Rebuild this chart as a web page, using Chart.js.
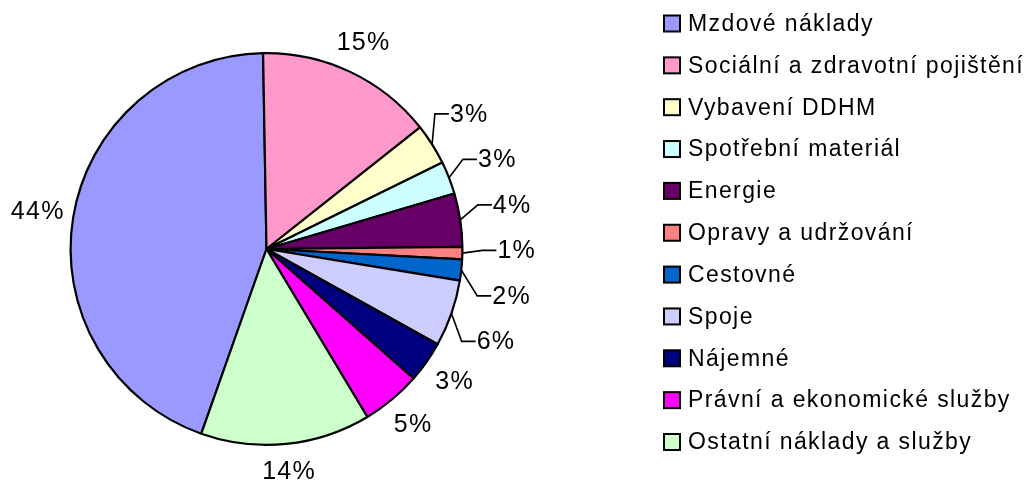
<!DOCTYPE html>
<html>
<head>
<meta charset="utf-8">
<script src="https://cdn.jsdelivr.net/npm/chart.js@4"></script>
<style>
  html, body { margin: 0; padding: 0; background: #fff; }
  canvas { display: block; }
</style>
</head>
<body>
<canvas id="costChart" width="1034" height="485"></canvas>
<script>
const categories = [
  'Mzdové náklady',
  'Sociální a zdravotní pojištění',
  'Vybavení DDHM',
  'Spotřební materiál',
  'Energie',
  'Opravy a udržování',
  'Cestovné',
  'Spoje',
  'Nájemné',
  'Právní a ekonomické služby',
  'Ostatní náklady a služby'
];
// share of costs in percent
const values = [44.3, 14.6, 3.4, 2.7, 4.4, 1.0, 1.75, 5.5, 3.4, 4.9, 14.0];
const colors = [
  '#9999FF', '#FF99CC', '#FFFFCC', '#CCFFFF', '#660066', '#FF8080',
  '#0066CC', '#CCCCFF', '#000080', '#FF00FF', '#CCFFCC'
];

const FAMILY = '"Liberation Sans", Arial, sans-serif';
const total = values.reduce((a, b) => a + b, 0);

// percent labels, small slices on the right get leader lines
const sliceLabels = {
  id: 'sliceLabels',
  afterDatasetsDraw(chart) {
    const ctx = chart.ctx;
    const meta = chart.getDatasetMeta(0);
    ctx.save();
    ctx.font = '25px ' + FAMILY;
    ctx.letterSpacing = '1.3px';
    ctx.fillStyle = '#000';
    ctx.strokeStyle = '#000';
    ctx.lineWidth = 1.6;

    const leaders = [];
    meta.data.forEach((arc, i) => {
      const p = arc.getProps(['x', 'y', 'outerRadius', 'startAngle', 'endAngle'], true);
      const mid = (p.startAngle + p.endAngle) / 2;
      const txt = Math.round(values[i] / total * 100) + '%';
      if (values[i] < 7 && Math.cos(mid) > 0 && Math.sin(mid) < 0.45) {
        leaders.push({ p, mid, txt, y: p.y + (p.outerRadius + 22) * Math.sin(mid) });
      } else {
        // text is wider than tall, so push it further out sideways
        const d = p.outerRadius + 28 + 8 * Math.abs(Math.cos(mid));
        ctx.textAlign = 'center';
        ctx.textBaseline = 'middle';
        ctx.fillText(txt, p.x + d * Math.cos(mid), p.y + d * Math.sin(mid));
      }
    });

    // spread crowded labels evenly around their mean position
    const gap = 45.5;
    leaders.sort((a, b) => a.y - b.y);
    const mean = leaders.reduce((s, l) => s + l.y, 0) / leaders.length;
    leaders.forEach((l, k) => { l.y = mean + (k - (leaders.length - 1) / 2) * gap; });

    ctx.textAlign = 'left';
    ctx.textBaseline = 'middle';
    leaders.forEach(l => {
      const { x, y, outerRadius } = l.p;
      const ax = x + outerRadius * Math.cos(l.mid);
      const ay = y + outerRadius * Math.sin(l.mid);
      const rr = outerRadius + 20;
      const dy = l.y - y;
      const ex = x + Math.sqrt(Math.max(rr * rr - dy * dy, 0));
      ctx.beginPath();
      ctx.moveTo(ax, ay);
      ctx.lineTo(ex, l.y);
      ctx.lineTo(ex + 14, l.y);
      ctx.stroke();
      ctx.fillText(l.txt, ex + 15, l.y + 1);
    });
    ctx.restore();
  }
};

// legend drawn by hand so the spacing matches
const sideLegend = {
  id: 'sideLegend',
  afterDraw(chart) {
    const ctx = chart.ctx;
    const ds = chart.data.datasets[0];
    ctx.save();
    ctx.font = '23px ' + FAMILY;
    ctx.letterSpacing = '1.4px';
    ctx.textAlign = 'left';
    ctx.textBaseline = 'middle';
    chart.data.labels.forEach((lab, i) => {
      const cy = 23.5 + i * 41.85;
      ctx.fillStyle = ds.backgroundColor[i];
      ctx.fillRect(664, cy - 8, 16, 16);
      ctx.strokeStyle = '#000';
      ctx.lineWidth = 2;
      ctx.strokeRect(664, cy - 8, 16, 16);
      ctx.fillStyle = '#000';
      ctx.fillText(lab, 688, cy + 1);
    });
    ctx.restore();
  }
};

new Chart(document.getElementById('costChart').getContext('2d'), {
  type: 'pie',
  data: {
    labels: categories,
    datasets: [{
      data: values,
      backgroundColor: colors,
      borderColor: '#000',
      borderWidth: 2.2
    }]
  },
  options: {
    responsive: false,
    devicePixelRatio: 1,
    animation: false,
    rotation: -values[0] / total * 360 - 1,
    layout: { padding: { left: 69, right: 570, top: 52, bottom: 39 } },
    plugins: {
      legend: { display: false },
      tooltip: { enabled: false }
    }
  },
  plugins: [sliceLabels, sideLegend]
});
</script>
</body>
</html>
